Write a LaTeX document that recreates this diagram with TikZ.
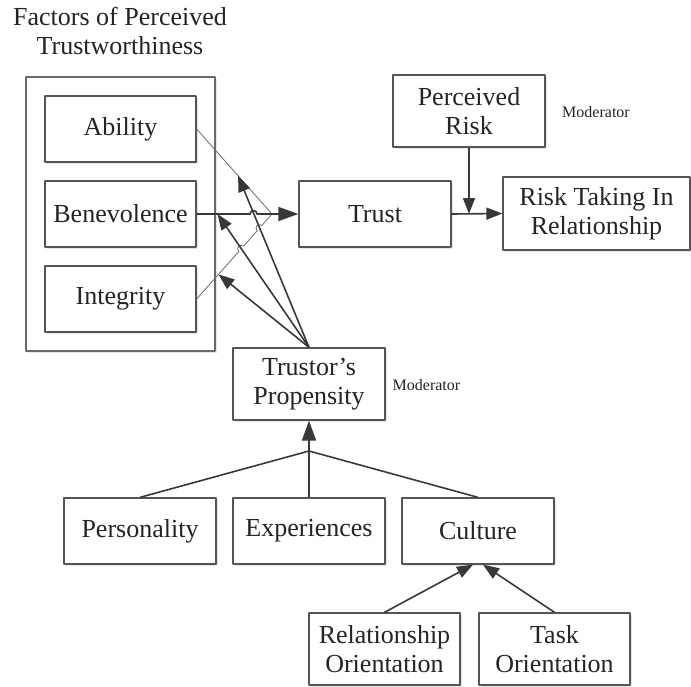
\documentclass[tikz,border=0pt]{standalone}
\usepackage{fontspec}
\setmainfont{Liberation Serif}
\usetikzlibrary{arrows.meta,positioning,calc,shadows}
\definecolor{ink}{HTML}{242424}
\definecolor{wirec}{HTML}{383838}
\definecolor{frame}{HTML}{555555}
\definecolor{faint}{HTML}{6A6A6A}
\tikzset{box/.style={draw=frame,line width=1.3pt,fill=white,minimum width=151pt,minimum height=66pt,align=center,inner sep=2pt,drop shadow={opacity=0.2,shadow xshift=1.5pt,shadow yshift=-1.5pt}},
  tallbox/.style={box,minimum height=72pt},
  groupbox/.style={draw=faint,line width=1.3pt,fill=white,minimum width=189pt,minimum height=274pt,drop shadow={opacity=0.2,shadow xshift=1.5pt,shadow yshift=-1.5pt}},
  wire/.style={draw=wirec,line width=1.6pt},
  feed/.style={draw=faint,line width=0.8pt},
  arr/.style={wire,-{Triangle[length=16pt,width=12pt]}},
  note/.style={font=\fontsize{16}{18}\selectfont,text=ink},
  every picture/.style={line join=round}}

\begin{document}
\begin{tikzpicture}[x=1pt,y=-1pt,font=\fontsize{26}{29}\selectfont,text=ink]
  \useasboundingbox (0,0) rectangle (691,686);
  % factors of trustworthiness
  \node[align=center] (title) at (120,31) {Factors of Perceived\\Trustworthiness};
  \node[groupbox] (factors) at (120.5,214) {};
  \node[box] (ability) at (120.5,129) {Ability};
  \node[box] (benevolence) at (120.5,214) {Benevolence};
  \node[box] (integrity) at (120.5,299) {Integrity};
  % trust and outcome
  \node[box,minimum width=152pt] (trust) at (375,214) {Trust};
  \node[tallbox,minimum width=152pt] (risk) at (469,111) {Perceived\\Risk};
  \node[tallbox,minimum width=187pt,minimum height=73pt] (risktaking) at (596.5,213.5) {Risk Taking In\\Relationship};
  \node[note] (modrisk) at (596,112) {Moderator};
  % propensity and antecedents
  \node[tallbox,minimum width=152pt] (propensity) at (309,384) {Trustor’s\\Propensity};
  \node[note] (modprop) at (426.5,385) {Moderator};
  \node[box,minimum width=152pt] (personality) at (140,531) {Personality};
  \node[box,minimum width=152pt] (experiences) at (309,531) {Experiences};
  \node[box,minimum width=152pt] (culture) at (478,531) {Culture};
  \node[tallbox] (relorient) at (384.5,649) {Relationship\\Orientation};
  \node[tallbox] (taskorient) at (554.5,649) {Task\\Orientation};

  \coordinate (merge) at (272,214);
  \coordinate (onability) at ($(ability.east)!0.55!(merge)$);
  \coordinate (onbenev) at ($(benevolence.east)!0.205!(trust.west)$);
  \coordinate (oninteg) at ($(integrity.east)!0.29!(merge)$);
  \coordinate (modpt) at (risk.south |- trust.east);
  \coordinate (join) at (309,451);

  % links into trust
  \draw[feed] (ability.east) -- (merge);
  \draw[feed] (integrity.east) -- ($(integrity.east)!0.560!(merge)$)
    arc[start angle=131.8,end angle=311.8,radius=3.5] -- ($(integrity.east)!0.803!(merge)$)
    arc[start angle=131.8,end angle=311.8,radius=3.5] -- (merge);
  \draw[wire,-{Triangle[length=20pt,width=14pt]}] (benevolence.east) -- ($(benevolence.east)!0.525!(trust.west)$)
    arc[start angle=180,end angle=360,radius=3.5] -- (trust.west);
  \draw[arr] (trust.east) -- (risktaking.west);
  \draw[arr] (risk.south) -- (modpt);
  % propensity as moderator
  \foreach \tip in {onability,onbenev,oninteg}
    \draw[arr] (propensity.north) -- (\tip);
  % antecedents
  \draw[wire] (personality.north) -- (join);
  \draw[wire] (culture.north) -- (join);
  \draw[wire] (experiences.north) -- (join);
  \draw[wire,-{Triangle[length=20pt,width=14pt]}] (join) -- (propensity.south);
  \draw[arr] (relorient.north) -- ([xshift=-5pt]culture.south);
  \draw[arr] (taskorient.north) -- ([xshift=5pt]culture.south);
\end{tikzpicture}
\end{document}
